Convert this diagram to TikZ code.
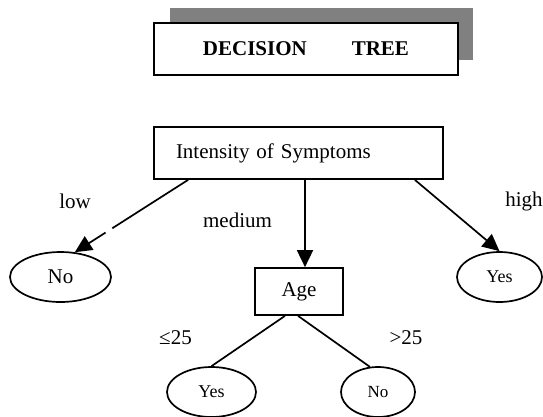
\documentclass[tikz,border=0pt]{standalone}
\usepackage{fontspec}
\setmainfont{Liberation Serif}
\usetikzlibrary{shapes.geometric,arrows.meta}
\definecolor{shadowgray}{HTML}{808080}
\begin{document}
\begin{tikzpicture}[x=1pt,y=-1pt,
  every node/.style={font=\fontsize{21}{25}\selectfont},
  box/.style={draw,line width=1.7pt,inner sep=0pt,fill=white},
  oval/.style={draw,ellipse,line width=1.7pt,inner sep=0pt},
  conn/.style={line width=1.7pt},
  arr/.style={conn,-{Triangle[length=17pt,width=16pt]}},
  lbl/.style={inner sep=0pt}
]
\useasboundingbox (0,0) rectangle (543,416);
% title with shadow
\fill[shadowgray] (170,8) rectangle (473,60);
\node[box,line width=2pt,minimum width=304pt,minimum height=52pt] (title) at (306,49)
  {\bfseries DECISION\hspace{45pt}TREE};
% nodes
\node[box,minimum width=289pt,minimum height=52pt,inner xsep=22pt,text width=245pt,align=left] (int) at (298.5,153) {Intensity of Symptoms};
\node[box,minimum width=88pt,minimum height=47pt] (age) at (299,291.5) {Age};
\node[oval,minimum width=101pt,minimum height=50pt] (noL) at (60.5,277) {No};
\node[oval,minimum width=85pt,minimum height=50pt,font=\fontsize{18}{22}\selectfont] (yesR) at (499.5,277) {Yes};
\node[oval,minimum width=89pt,minimum height=50pt,font=\fontsize{18}{22}\selectfont] (yesB) at (211.5,392) {Yes};
\node[oval,minimum width=74pt,minimum height=50pt,font=\fontsize{17}{21}\selectfont] (noB) at (378,392) {No};
% connectors
\draw[arr,dash pattern=on 90pt off 8pt on 200pt] ([xshift=35pt]int.south west) -- (noL.60);
\draw[arr] ([xshift=6.5pt]int.south) -- ([xshift=6pt]age.north);
\draw[arr] ([xshift=-29pt]int.south east) -- (yesR.north);
\draw[conn] ([xshift=-14pt]age.south) -- (yesB.north);
\draw[conn] ([xshift=-1pt]age.south) -- (noB.108);
% labels
\node[lbl] (lLow) at (75,201) {low};
\node[lbl] (lMed) at (237.5,220) {medium};
\node[lbl] (lHigh) at (524,201) {high};
\node[lbl] (lLe) at (175.5,338) {≤25};
\node[lbl] (lGt) at (406,338) {>25};
\end{tikzpicture}
\end{document}
